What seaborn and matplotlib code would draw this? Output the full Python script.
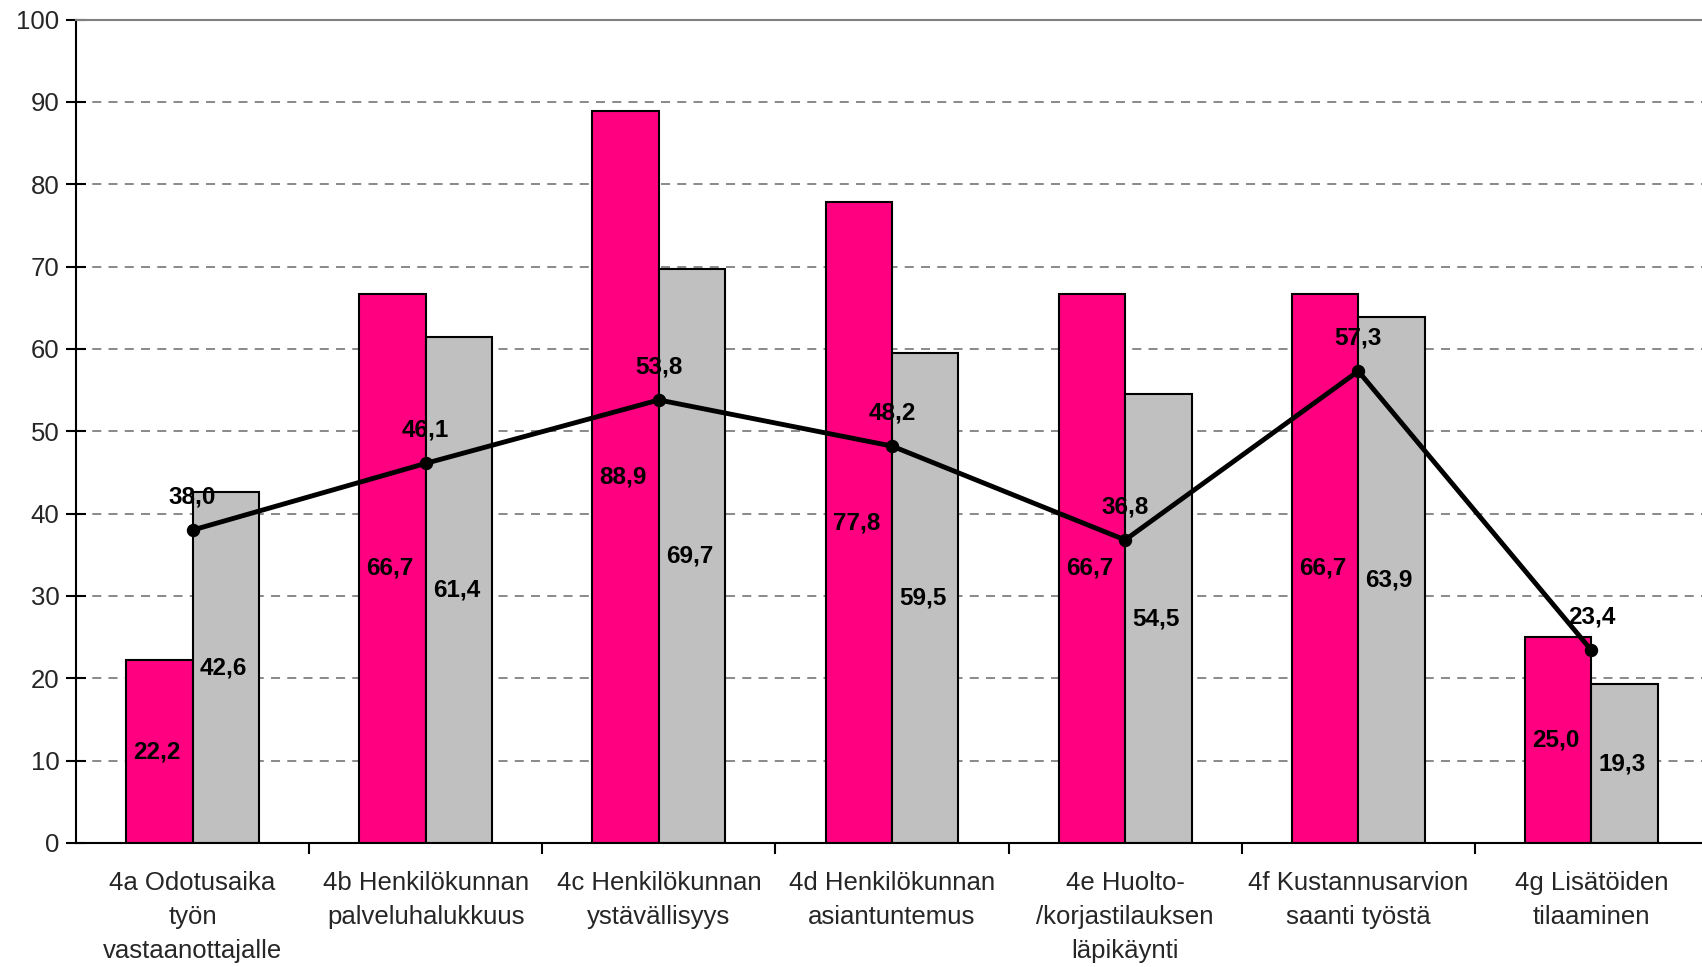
import matplotlib
matplotlib.use("Agg")
import matplotlib.pyplot as plt
import seaborn as sns
import pandas as pd
import numpy as np

categories = [
    "4a Odotusaika\ntyön\nvastaanottajalle",
    "4b Henkilökunnan\npalveluhalukkuus",
    "4c Henkilökunnan\nystävällisyys",
    "4d Henkilökunnan\nasiantuntemus",
    "4e Huolto-\n/korjastilauksen\nläpikäynti",
    "4f Kustannusarvion\nsaanti työstä",
    "4g Lisätöiden\ntilaaminen",
]
series_a = [22.2, 66.7, 88.9, 77.8, 66.7, 66.7, 25.0]
series_b = [42.6, 61.4, 69.7, 59.5, 54.5, 63.9, 19.3]
line_values = [38.0, 46.1, 53.8, 48.2, 36.8, 57.3, 23.4]
series_names = ["A", "B"]
y_ticks = list(range(0, 101, 10))

PINK = "#FF0080"
GREY = "#C0C0C0"

sns.set_theme(style="white")
plt.rcParams["font.family"] = ["Liberation Sans", "DejaVu Sans"]

bars = pd.DataFrame({
    "kategoria": categories * 2,
    "arvo": series_a + series_b,
    "sarja": [series_names[0]] * len(categories) + [series_names[1]] * len(categories),
})
line_df = pd.DataFrame({"kategoria": categories, "arvo": line_values})

fig = plt.figure(figsize=(17.02, 9.67), dpi=100)
ax = fig.add_axes([76 / 1702, 1 - 843 / 967, (1708 - 76) / 1702, (843 - 19.5) / 967])

sns.barplot(data=bars, x="kategoria", y="arvo", hue="sarja",
            palette=[PINK, GREY], width=0.57, gap=0, dodge=True,
            edgecolor="black", linewidth=1.5, saturation=1,
            legend=False, ax=ax, order=categories)

sns.pointplot(data=line_df, x="kategoria", y="arvo", color="black",
              markers="o", markersize=7, linewidth=3.5, ax=ax, order=categories)

def fmt(v):
    return f"{v:.1f}".replace(".", ",")

# value labels in the middle of each bar
for container in ax.containers:
    for patch in container:
        h = patch.get_height()
        ax.text(patch.get_x() + patch.get_width() / 2 - 0.01, h / 2, fmt(h),
                ha="center", va="center", fontsize=17.5, fontweight="bold",
                color="black", zorder=5)

# value labels above the line points
for i, v in enumerate(line_values):
    ax.annotate(fmt(v), (i, v), xytext=(0, 24), textcoords="offset points",
                ha="center", va="center", fontsize=17.5, fontweight="bold",
                color="black", zorder=6)

ax.set_xlim(-0.5, len(categories) - 0.5)
ax.set_ylim(0, 100)
ax.set_yticks(y_ticks)
ax.set_yticklabels([str(t) for t in y_ticks], fontsize=18.5)
ax.set_xticks(range(len(categories)))
ax.set_xticklabels(categories, fontsize=18.5, linespacing=1.52)
ax.set_xticks(np.arange(0.5, len(categories) - 0.5, 1.0), minor=True)
ax.tick_params(axis="x", which="major", length=0, pad=20)
ax.tick_params(axis="x", which="minor", length=8, width=1.5, color="black",
               direction="out", bottom=True)
ax.tick_params(axis="y", which="major", length=14, width=1.5, color="black",
               direction="inout", left=True, pad=5)
ax.set_xlabel("")
ax.set_ylabel("")

for y in y_ticks[1:-1]:
    ax.axhline(y, color="#808080", linewidth=1.3, linestyle=(0, (5, 4)), zorder=0)

for side in ["left", "bottom"]:
    ax.spines[side].set_color("black")
    ax.spines[side].set_linewidth(1.5)
ax.spines["top"].set_color("#808080")
ax.spines["top"].set_linewidth(1.5)
ax.spines["right"].set_visible(False)
ax.set_axisbelow(True)

fig.savefig("out.png", dpi=100)
